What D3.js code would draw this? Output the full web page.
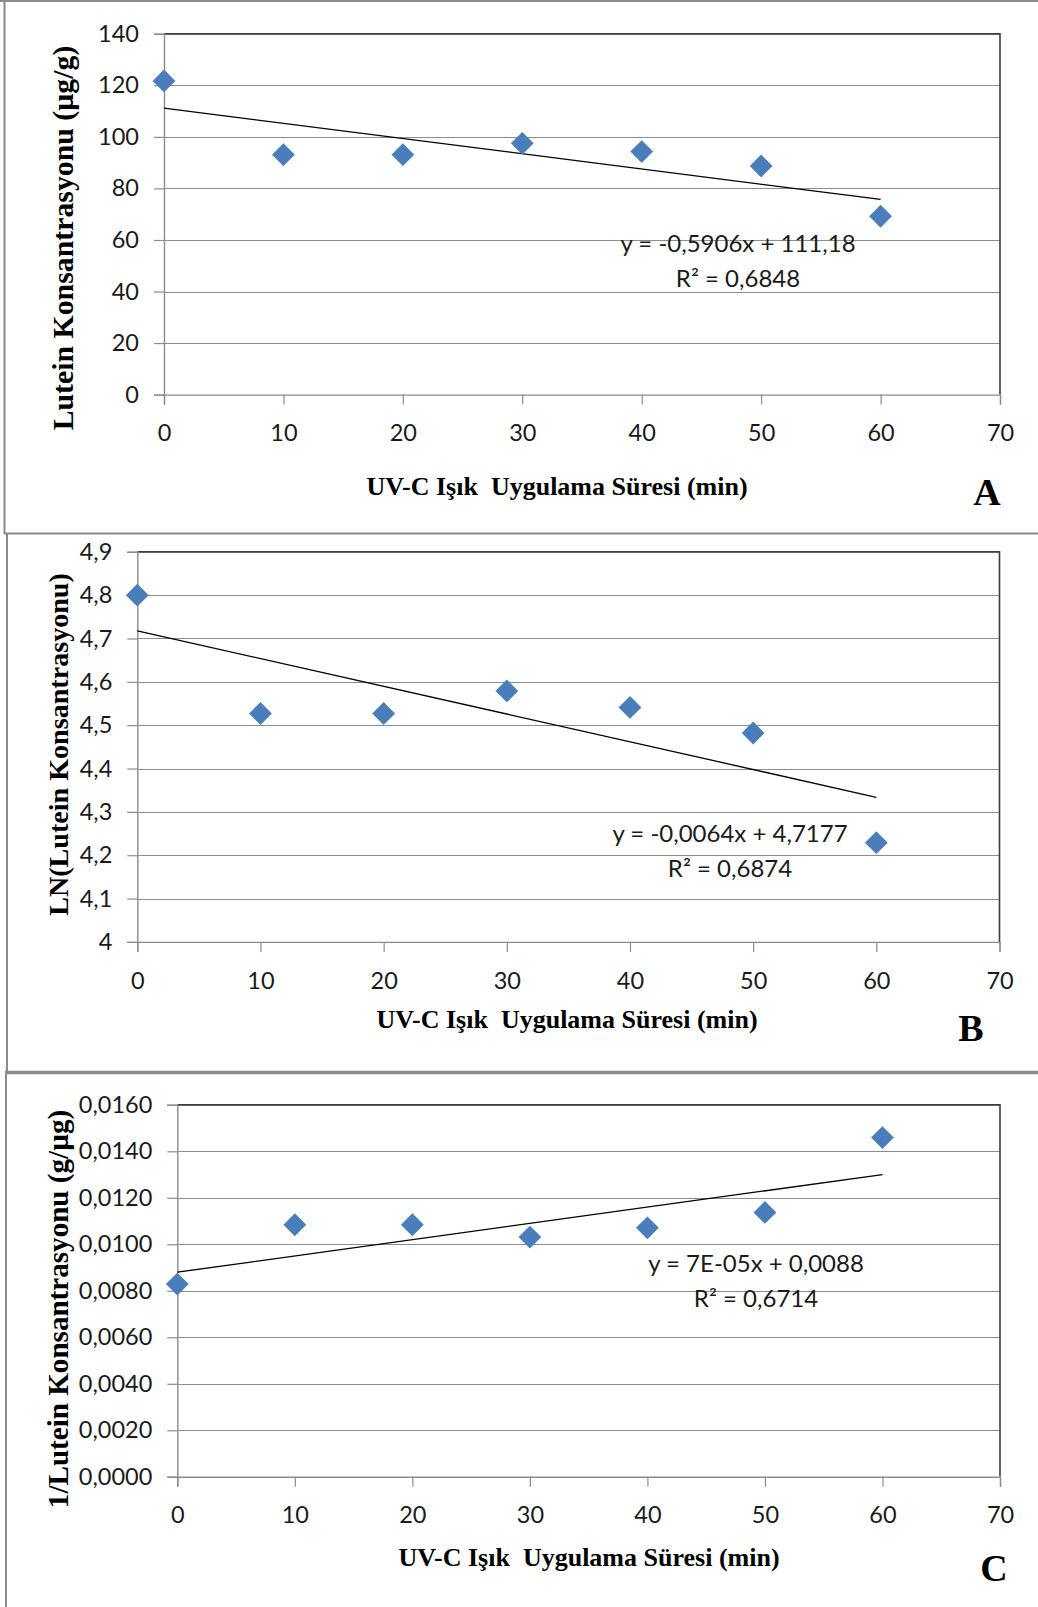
<!DOCTYPE html>
<html>
<head>
<meta charset="utf-8">
<script src="https://cdn.jsdelivr.net/npm/d3@7"></script>
<style>
  body { margin: 0; background: #fff; }
  svg { display: block; }
  .tick text { font-family: Lato, "Open Sans", sans-serif; font-size: 23.5px; fill: #1a1a1a; }
  .title { font-family: "Liberation Serif", "Times New Roman", serif; font-weight: bold; fill: #000; white-space: pre; }
  .eq { font-family: Lato, "Open Sans", sans-serif; font-size: 24px; fill: #1a1a1a; }
</style>
</head>
<body>
<svg id="chart" width="1038" height="1607"></svg>
<script>
// data
var minutes = [0, 10, 20, 30, 40, 50, 60]
var luteinA = [121.7, 93.1, 93.1, 97.5, 94.3, 88.7, 69.2]
var lnLuteinB = [4.80, 4.527, 4.527, 4.579, 4.541, 4.482, 4.229]
var invLuteinC = [0.00829, 0.01084, 0.01084, 0.01031, 0.01071, 0.01137, 0.01459]

var xTicks = [0, 10, 20, 30, 40, 50, 60, 70]
var yTicksA = [0, 20, 40, 60, 80, 100, 120, 140]
var yTicksB = [4, 4.1, 4.2, 4.3, 4.4, 4.5, 4.6, 4.7, 4.8, 4.9]
var yTicksC = [0, 0.002, 0.004, 0.006, 0.008, 0.010, 0.012, 0.014, 0.016]

var fitSlopes = [-0.5906, -0.0064, 0.00007]
var fitIntercepts = [111.18, 4.7177, 0.0088]
var eqLabels = ['y = -0,5906x + 111,18', 'y = -0,0064x + 4,7177', 'y = 7E-05x + 0,0088']
var r2Labels = ['R\u00b2 = 0,6848', 'R\u00b2 = 0,6874', 'R\u00b2 = 0,6714']

var yTitles = ['Lutein Konsantrasyonu (\u00b5g/g)', 'LN(Lutein Konsantrasyonu)', '1/Lutein Konsantrasyonu (g/\u00b5g)']
var xTitle = 'UV-C I\u015f\u0131k  Uygulama S\u00fcresi (min)'
var panelLetters = ['A', 'B', 'C']

var comma = function(f) { return function(v) { return f(v).replace('.', ',') } }

// layout of each panel (pixels)
var panels = [
  { values: luteinA, yTicks: yTicksA, fmt: d3.format('d'),
    left: 164, right: 1000, top: 33.8, bottom: 394.6,
    eqX: 738, eqY: 244, xTitleX: 557, xTitleY: 487, yTitleX: 63.5, yTitleY: 238, yTitleSize: 29.8,
    letterX: 987, letterY: 492 },
  { values: lnLuteinB, yTicks: yTicksB, fmt: function(v) { return v === 4 ? '4' : comma(d3.format('.1f'))(v) },
    left: 137.3, right: 999.5, top: 551.8, bottom: 941.9,
    eqX: 730, eqY: 834, xTitleX: 567, xTitleY: 1020, yTitleX: 58.4, yTitleY: 744.5, yTitleSize: 28.1,
    letterX: 971, letterY: 1028 },
  { values: invLuteinC, yTicks: yTicksC, fmt: comma(d3.format('.4f')),
    left: 177.3, right: 1000, top: 1104.8, bottom: 1476.8,
    eqX: 756, eqY: 1264, xTitleX: 589, xTitleY: 1558, yTitleX: 58.4, yTitleY: 1309, yTitleSize: 29.1,
    letterX: 994, letterY: 1568 }
]

var svg = d3.select('#chart')
var frameColor = '#8a8a8a'
  , gridColor = '#8c8c8c'

// panel frames
svg.append('line').attr('x1', 0).attr('x2', 1038).attr('y1', 1).attr('y2', 1)
  .attr('stroke', frameColor).attr('stroke-width', 2)
svg.append('line').attr('x1', 4.5).attr('x2', 4.5).attr('y1', 0).attr('y2', 534)
  .attr('stroke', frameColor).attr('stroke-width', 2)
svg.append('line').attr('x1', 4).attr('x2', 1038).attr('y1', 533.5).attr('y2', 533.5)
  .attr('stroke', frameColor).attr('stroke-width', 2)
svg.append('line').attr('x1', 7).attr('x2', 7).attr('y1', 533).attr('y2', 1073)
  .attr('stroke', frameColor).attr('stroke-width', 2)
svg.append('line').attr('x1', 5).attr('x2', 1038).attr('y1', 1072.5).attr('y2', 1072.5)
  .attr('stroke', frameColor).attr('stroke-width', 3.5)
svg.append('line').attr('x1', 6).attr('x2', 6).attr('y1', 1072).attr('y2', 1607)
  .attr('stroke', frameColor).attr('stroke-width', 2)

var diamond = d3.symbol().type(d3.symbolSquare).size(260)

panels.forEach(function(p, i) {
  var yDomain = d3.extent(p.yTicks)
  var x = d3.scaleLinear().domain([0, 70]).range([p.left, p.right])
  var y = d3.scaleLinear().domain(yDomain).range([p.bottom, p.top])
  var g = svg.append('g')

  // gridlines
  g.selectAll('line.grid').data(p.yTicks.slice(1)).enter().append('line').attr('class', 'grid')
    .attr('x1', p.left).attr('x2', p.right)
    .attr('y1', function(d) { return Math.round(y(d)) + 0.5 })
    .attr('y2', function(d) { return Math.round(y(d)) + 0.5 })
    .attr('stroke', gridColor).attr('stroke-width', 1.2)

  // top and right border of plot area
  g.append('path')
    .attr('d', 'M' + p.left + ',' + y(yDomain[1]) + 'H' + p.right + 'V' + p.bottom)
    .attr('fill', 'none').attr('stroke', '#3c3c3c').attr('stroke-width', 1.6)

  var yAxis = g.append('g').attr('transform', 'translate(' + p.left + ',0)')
    .call(d3.axisLeft(y).tickValues(p.yTicks).tickFormat(p.fmt).tickSize(10).tickPadding(15))
  var xAxis = g.append('g').attr('transform', 'translate(0,' + p.bottom + ')')
    .call(d3.axisBottom(x).tickValues(xTicks).tickSize(10).tickPadding(20))
  ;[yAxis, xAxis].forEach(function(a) {
    a.select('.domain').attr('stroke', gridColor).attr('stroke-width', 1.4)
    a.selectAll('.tick line').attr('stroke', gridColor).attr('stroke-width', 1.2)
  })

  // trend line
  g.append('line')
    .attr('x1', x(0)).attr('y1', y(fitIntercepts[i]))
    .attr('x2', x(60)).attr('y2', y(fitIntercepts[i] + fitSlopes[i] * 60))
    .attr('stroke', '#000').attr('stroke-width', 1.3)

  // points
  g.selectAll('path.pt').data(minutes).enter().append('path').attr('class', 'pt')
    .attr('d', diamond)
    .attr('transform', function(d, j) { return 'translate(' + x(d) + ',' + y(p.values[j]) + ') rotate(45)' })
    .attr('fill', '#4a7ebb')

  // equation
  g.append('text').attr('class', 'eq').attr('text-anchor', 'middle')
    .attr('x', p.eqX).attr('y', p.eqY).attr('dy', '0.35em').text(eqLabels[i])
  g.append('text').attr('class', 'eq').attr('text-anchor', 'middle')
    .attr('x', p.eqX).attr('y', p.eqY + 35).attr('dy', '0.35em').text(r2Labels[i])

  // titles
  g.append('text').attr('class', 'title').attr('text-anchor', 'middle')
    .attr('font-size', 26).attr('x', p.xTitleX).attr('y', p.xTitleY + 8).text(xTitle)
  g.append('text').attr('class', 'title').attr('text-anchor', 'middle')
    .attr('font-size', p.yTitleSize)
    .attr('transform', 'translate(' + (p.yTitleX + 9.5) + ',' + p.yTitleY + ') rotate(-90)')
    .text(yTitles[i])
  g.append('text').attr('class', 'title').attr('text-anchor', 'middle')
    .attr('font-size', 38).attr('x', p.letterX).attr('y', p.letterY + 13).text(panelLetters[i])
})
</script>
</body>
</html>
